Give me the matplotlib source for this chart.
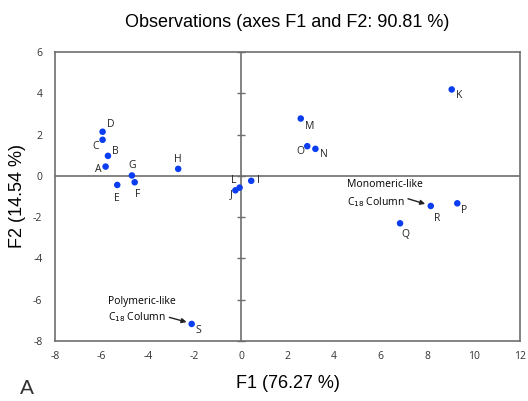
import matplotlib
matplotlib.use("Agg")
from matplotlib import pyplot as plt

plt.rcParams["axes.unicode_minus"] = False

# observation scores on the first two factors
names = ["A", "B", "C", "D", "E", "F", "G", "H", "I", "J",
         "K", "L", "M", "N", "O", "P", "Q", "R", "S"]
f1 = [-5.82, -5.72, -5.95, -5.95, -5.32, -4.57, -4.69, -2.70, 0.44, -0.24,
      9.06, -0.06, 2.57, 3.20, 2.85, 9.30, 6.84, 8.16, -2.12]
f2 = [0.45, 0.97, 1.75, 2.14, -0.44, -0.31, 0.02, 0.34, -0.24, -0.70,
      4.19, -0.57, 2.78, 1.31, 1.44, -1.33, -2.30, -1.46, -7.18]

xticks = [-8, -6, -4, -2, 0, 2, 4, 6, 8, 10, 12]
yticks = [6, 4, 2, 0, -2, -4, -6, -8]

# label offsets in points (dx, dy, ha, va)
offsets = {
    "A": (-3, -2, "right", "center"), "B": (3, 3, "left", "center"),
    "C": (-3, -5, "right", "center"), "D": (3, 5, "left", "center"),
    "E": (0, -6, "center", "top"), "F": (2, -5, "center", "top"),
    "G": (0, 3, "center", "bottom"), "H": (0, 3, "center", "bottom"),
    "I": (4, 0, "left", "center"), "J": (-2, -3, "right", "center"),
    "L": (-2, 5, "right", "center"), "K": (3, -4, "left", "center"),
    "M": (3, -6, "left", "center"), "N": (3, -4, "left", "center"),
    "O": (-2, -4, "right", "center"), "P": (3, -5, "left", "center"),
    "Q": (1, -4, "left", "top"), "R": (2, -5, "left", "top"),
    "S": (3, -5, "left", "center"),
}

fig = plt.figure(figsize=(5.28, 4.01), dpi=100)
ax = fig.add_axes([0.104, 0.150, 0.881, 0.720])
ax.set_xlim(-8, 12)
ax.set_ylim(-8, 6)

gray = "#6e6e6e"
for s in ax.spines.values():
    s.set_color(gray)
    s.set_linewidth(1.2)
ax.axhline(0, color=gray, lw=1.2, zorder=1)
ax.axvline(0, color=gray, lw=1.2, zorder=1)
# small tick crosses on the vertical zero line
ax.plot([0] * len(yticks), yticks, marker="_", ms=6, mew=1.0, color=gray,
        ls="none", clip_on=False, zorder=1)

ax.set_xticks(xticks)
ax.set_yticks(yticks)
ax.tick_params(axis="x", length=0, labelsize=7.5, colors="#333333", pad=7)
ax.tick_params(axis="y", length=0, labelsize=7.5, colors="#333333", pad=9)
for lab in ax.get_xticklabels() + ax.get_yticklabels():
    lab.set_family("Open Sans")

ax.scatter(f1, f2, s=22, color="#0a3cf0", zorder=3, edgecolors="none")
for n, x, y in zip(names, f1, f2):
    dx, dy, ha, va = offsets[n]
    ax.annotate(n, (x, y), xytext=(dx, dy), textcoords="offset points",
                ha=ha, va=va, fontsize=7.5, family="Open Sans", color="#222222")

# annotations
ax.annotate("", xy=(7.92, -1.36), xytext=(7.18, -1.11),
            arrowprops=dict(arrowstyle="-|>", color="#222222", lw=1.0,
                            mutation_scale=7, shrinkA=0, shrinkB=0))
ax.text(4.55, -0.44, "Monomeric-like", fontsize=7.5, family="Open Sans", va="center")
ax.text(4.55, -1.26, "C$_{18}$ Column", fontsize=7.5, family="Open Sans", va="center")
ax.annotate("", xy=(-2.34, -7.09), xytext=(-3.08, -6.86),
            arrowprops=dict(arrowstyle="-|>", color="#222222", lw=1.0,
                            mutation_scale=7, shrinkA=0, shrinkB=0))
ax.text(-5.72, -6.09, "Polymeric-like", fontsize=7.5, family="Open Sans", va="center")
ax.text(-5.72, -6.86, "C$_{18}$ Column", fontsize=7.5, family="Open Sans", va="center")

ax.set_title("Observations (axes F1 and F2: 90.81 %)", fontsize=13,
             family="Liberation Sans", pad=18)
ax.set_xlabel("F1 (76.27 %)", fontsize=13, family="Liberation Sans", labelpad=10)
ax.set_ylabel("F2 (14.54 %)", fontsize=13, family="Liberation Sans", labelpad=5)
fig.text(0.038, 0.018, "A", fontsize=15, family="Liberation Sans", color="#333333")

fig.savefig("out.png", dpi=100)
